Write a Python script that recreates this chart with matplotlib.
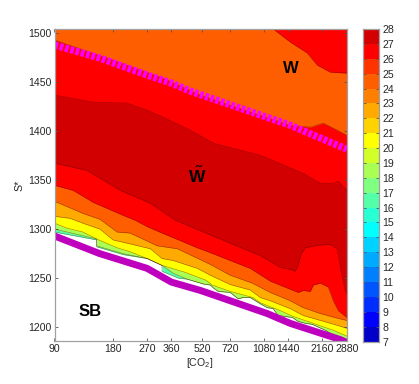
import numpy as np
import matplotlib
matplotlib.use("Agg")
import matplotlib.pyplot as plt
from matplotlib.ticker import FixedLocator, NullLocator

plt.rcParams['font.family'] = ['Liberation Sans', 'DejaVu Sans']
plt.rcParams['mathtext.fontset'] = 'custom'
plt.rcParams['mathtext.rm'] = 'Liberation Sans'
plt.rcParams['mathtext.bf'] = 'Liberation Sans:bold'

x_ticks = [90, 180, 270, 360, 520, 720, 1080, 1440, 2160, 2880]
y_ticks = [1200, 1250, 1300, 1350, 1400, 1450, 1500]
cbar_levels = list(range(7, 29))
cbar_colors = ['#0000C8', '#0000FF', '#002DFF', '#0055FF', '#0080FF', '#00AAFF', '#00D2FF',
               '#00FFFF', '#28FFD2', '#55FFAA', '#80FF80', '#AAFF55', '#D2FF28', '#FFFF00',
               '#FFD200', '#FFAA00', '#FF8000', '#FF5E00', '#FF3300', '#FF0000', '#D20000']

y_top = 1503.8
y_bot = 1185.7

# isolines, top of the plot first: (CO2, S*)
orange_up_x = [90, 1203, 1473, 1803, 2030, 2367, 2880]
orange_up_y = [1503.8, 1503.8, 1490.5, 1479.3, 1467, 1459.9, 1458.9]

orange_low_x = [90, 180, 326, 508, 1473, 1868, 2180, 2455, 2880]
orange_low_y = [1492.6, 1472.2, 1453.8, 1436.5, 1405.8, 1403.8, 1407.9, 1402.8, 1395.6]

dark_up_x = [90, 142, 213, 270, 326, 451, 593, 1032, 1718, 2104, 2455, 2604, 2880]
dark_up_y = [1436.5, 1429.3, 1428.3, 1421.2, 1414, 1400.7, 1387.5, 1375.2, 1356.9, 1346.7, 1346.7, 1348.7, 1339.5]

dark_low_x = [90, 132, 196, 280, 377, 667, 1032, 1309, 1473, 1563, 1619, 1678, 1763, 2030, 2367, 2572, 2634, 2730, 2830, 2880]
dark_low_y = [1367.1, 1359.9, 1339.5, 1326.3, 1309, 1288.5, 1273, 1261, 1259, 1257, 1263, 1275, 1281, 1283.5, 1284.5, 1280, 1268, 1251, 1237.5, 1234.4]

red_low_x = [90, 112, 142, 203, 234, 270, 322, 489, 571, 723, 916, 1162, 1421, 1619, 1718, 1868, 1935, 2104, 2312, 2455, 2604, 2880]
red_low_y = [1344.6, 1339.5, 1327.3, 1314, 1309, 1302.5, 1296, 1281, 1276, 1268, 1260, 1247, 1240, 1235.5, 1237.5, 1236.5, 1243, 1245, 1241, 1227, 1217, 1210]

oranger_low_x = [90, 126, 154, 189, 220, 304, 386, 571, 723, 938, 1162, 1473, 1718, 2104, 2604, 2880]
oranger_low_y = [1328.3, 1316, 1310, 1297, 1296, 1283, 1280, 1264, 1253, 1245, 1235.5, 1227, 1220, 1214, 1209, 1207]

orange_low2_x = [90, 108, 126, 154, 180, 220, 280, 322, 368, 489, 571, 723, 916, 1032, 1162, 1473, 1718, 2104, 2572, 2880]
orange_low2_y = [1313, 1311, 1306, 1300, 1289, 1285, 1280, 1270, 1268, 1260, 1253, 1243.5, 1238, 1230.3, 1227, 1219, 1212, 1207, 1202, 1199]

yellow_low_x = [90, 104, 126, 148, 189, 220, 270, 322, 423, 541, 585, 723, 946, 1032, 1162, 1309, 1526, 1935, 2455, 2880]
yellow_low_y = [1306, 1301, 1297, 1290, 1281, 1277, 1270, 1263, 1256, 1248, 1243, 1236.5, 1230.3, 1225, 1221, 1217, 1211, 1204, 1197, 1191]

green_low_x = [90, 148, 148, 203, 270, 322, 368, 434, 528, 571, 593, 627, 723, 794, 843, 916, 1032, 1121, 1203, 1277, 1389, 1509, 1619, 1763, 1910, 2232, 2455, 2830, 2880]
green_low_y = [1300, 1290, 1283, 1275, 1270, 1263, 1255, 1249, 1244, 1243, 1240, 1236.5, 1235.5, 1229, 1230.3, 1230.3, 1224, 1220, 1219, 1212, 1211, 1210, 1206, 1204, 1203, 1197, 1192, 1187.5, 1186.5]

edge_x = [90, 148, 148, 203, 270, 322, 322, 391, 434, 528, 571, 593, 627, 723, 794, 843, 916, 1032, 1121, 1203, 1277, 1389, 1509, 1619, 1763, 1910, 2232, 2455, 2830, 2880]
edge_y = [1297, 1289, 1282, 1274, 1270, 1263, 1257, 1250, 1249, 1244, 1243, 1240, 1236.5, 1235.5, 1229, 1230.3, 1230.3, 1224, 1220, 1219, 1212, 1211, 1210, 1206, 1204, 1203, 1197, 1192, 1187.5, 1186.5]

# transitions
sb_x = [90, 154, 270, 360, 508, 1121, 1473, 2666, 2880]
sb_y = [1293, 1275, 1260, 1246, 1237.5, 1214, 1204, 1187.5, 1184.5]
w_x = [90, 154, 270, 360, 451, 1473, 2880]
w_y = [1487.5, 1474.2, 1456.9, 1448.7, 1440.5, 1405.8, 1381.4]

isolines = [
    (orange_up_x, orange_up_y, '#FF5E00'),
    (orange_low_x, orange_low_y, '#FF0000'),
    (dark_up_x, dark_up_y, '#D20000'),
    (dark_low_x, dark_low_y, '#FF0000'),
    (red_low_x, red_low_y, '#FF5E00'),
    (oranger_low_x, oranger_low_y, '#FFAA00'),
    (orange_low2_x, orange_low2_y, '#FFFF00'),
    (yellow_low_x, yellow_low_y, '#AAFF55'),
    (green_low_x, green_low_y, '#55FFAA'),
    (edge_x, edge_y, 'white'),
]

fig = plt.figure(figsize=(4.19, 3.84), dpi=100)
ax = fig.add_axes([54.5 / 419, (384 - 341.3) / 384, 292.2 / 419, 312.3 / 384])

ax.set_facecolor('#FF0000')
for xs, ys, col in isolines:
    ax.fill_between(xs, ys, y_bot, color=col, linewidth=0)
for xs, ys, col in isolines:
    ax.plot(xs, ys, color='#400000', lw=0.4, alpha=0.5)

ax.plot(sb_x, sb_y, color='#BE00BE', lw=5, solid_capstyle='butt')
ax.plot(w_x, w_y, color='#FF00FF', lw=5.2, dashes=(0.5, 0.26), dash_capstyle='butt')

ax.set_xscale('log')
ax.set_xlim(90, 2880)
ax.set_ylim(y_bot, y_top)
ax.xaxis.set_major_locator(FixedLocator(x_ticks))
ax.xaxis.set_minor_locator(NullLocator())
ax.set_xticklabels([str(v) for v in x_ticks])
ax.set_yticks(y_ticks)
ax.tick_params(which='both', direction='in', top=True, right=True, length=2.2, width=0.6,
               color='#555555', labelcolor='#262626', labelsize=7.6, pad=2)
for s in ax.spines.values():
    s.set_color('#A0A0A0')
    s.set_linewidth(0.9)

fig.text(200 / 419, 1 - 363 / 384, '[CO$_2$]', ha='center', va='center', fontsize=7.6, color='#262626')
fig.text(19 / 419, 1 - 185 / 384, 'S*', ha='center', va='center', rotation=90, fontsize=7.6, color='#262626')

fig.text(291 / 419, 1 - 68.5 / 384, 'W', ha='center', va='center', fontsize=12, fontweight='bold')
fig.text(197.5 / 419, 1 - 176 / 384, r'$\tilde{\mathbf{W}}$', ha='center', va='center', fontsize=12.5)
fig.text(90 / 419, 1 - 311 / 384, 'SB', ha='center', va='center', fontsize=12, fontweight='bold')

cax = fig.add_axes([363 / 419, (384 - 341.5) / 384, 16.3 / 419, 312.5 / 384])
cax.pcolormesh([0, 1], cbar_levels, np.arange(21).reshape(-1, 1),
               cmap=matplotlib.colors.ListedColormap(cbar_colors), vmin=-0.5, vmax=20.5)
cax.set_xticks([])
cax.set_yticks(cbar_levels)
cax.yaxis.tick_right()
cax.tick_params(direction='in', left=True, right=True, length=2.2, width=0.6,
                color='#555555', labelcolor='#262626', labelsize=7.6, pad=2)
for s in cax.spines.values():
    s.set_color('#A0A0A0')
    s.set_linewidth(0.9)

plt.savefig("out.png", dpi=100)
